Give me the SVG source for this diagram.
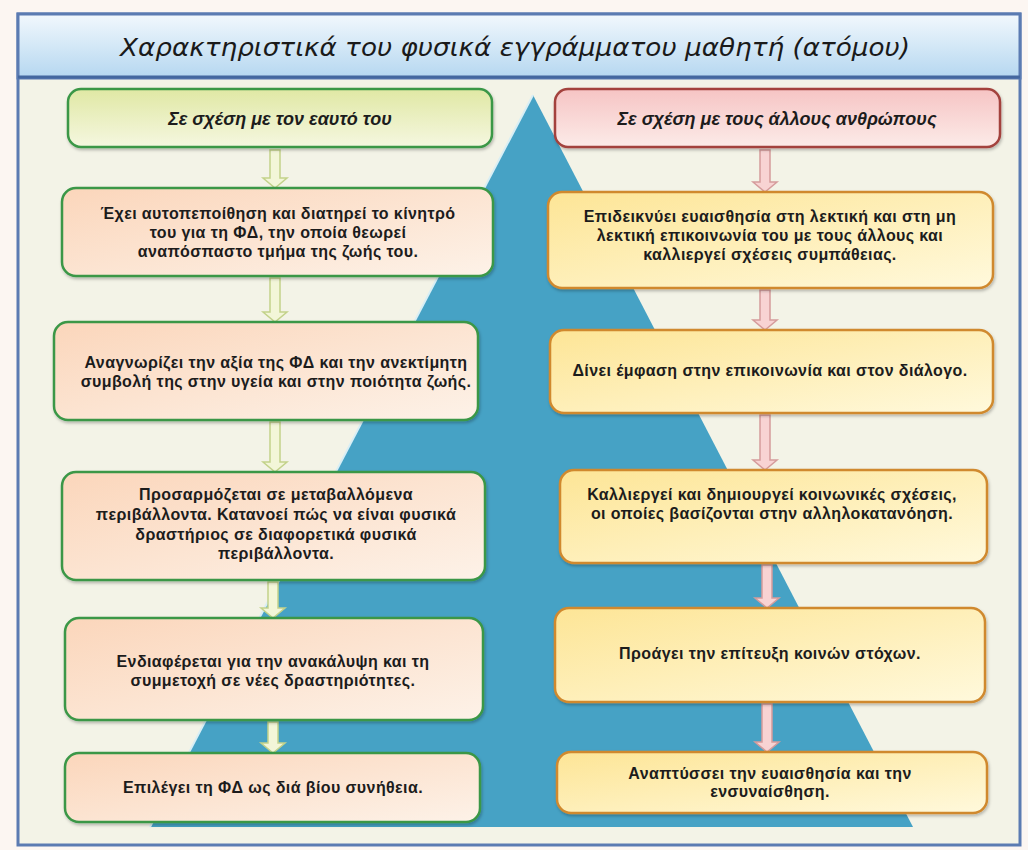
<svg xmlns="http://www.w3.org/2000/svg" width="1028" height="850" viewBox="0 0 1028 850">
<defs>
<linearGradient id="gTitle" x1="0" y1="0" x2="0" y2="1">
<stop offset="0" stop-color="#f2f8fd"/><stop offset="1" stop-color="#b5d7f0"/>
</linearGradient>
<linearGradient id="gHL" x1="0" y1="0" x2="0" y2="1">
<stop offset="0" stop-color="#e0e8a4"/><stop offset="1" stop-color="#f5f7e0"/>
</linearGradient>
<linearGradient id="gHR" x1="0" y1="0" x2="0" y2="1">
<stop offset="0" stop-color="#f6c4c4"/><stop offset="1" stop-color="#fcebe8"/>
</linearGradient>
<linearGradient id="gL" x1="0" y1="0" x2="1" y2="1">
<stop offset="0" stop-color="#fbd6bb"/><stop offset="1" stop-color="#fdf2e8"/>
</linearGradient>
<linearGradient id="gR" x1="0" y1="0" x2="1" y2="1">
<stop offset="0" stop-color="#fde596"/><stop offset="1" stop-color="#fff9dc"/>
</linearGradient>
<filter id="sh" x="-5%" y="-10%" width="110%" height="130%">
<feDropShadow dx="1" dy="2" stdDeviation="1.5" flood-color="#000" flood-opacity="0.25"/>
</filter>
</defs>
<style>
.nl{fill:url(#gL);stroke:#3a9746;stroke-width:2.5;filter:url(#sh)}
.nr{fill:url(#gR);stroke:#d0892e;stroke-width:2.5;filter:url(#sh)}
.t{font-family:"Liberation Sans",Arial,sans-serif;font-weight:bold;font-size:16px;letter-spacing:0.4px;fill:#1c1c1c;text-anchor:middle}
.h{font-family:"Liberation Sans",Arial,sans-serif;font-weight:bold;font-style:italic;font-size:18px;fill:#1c1c1c;text-anchor:middle}
.al{fill:#f3f6d8;stroke:#c3d28a;stroke-width:1.5}
.ar{fill:#f8d3d3;stroke:#d59c9c;stroke-width:1.5}
</style>
<rect x="0" y="0" width="1028" height="850" fill="#fcf6f2"/>
<g id="frame">
<rect x="18" y="14" width="1002" height="831" fill="#f3f3e7" stroke="#5b7bb2" stroke-width="3"/>
</g>
<g id="title">
<rect x="18" y="14" width="1002" height="64" fill="url(#gTitle)" stroke="#5b7bb2" stroke-width="3"/>
<line x1="18" y1="77" x2="1020" y2="77" stroke="#44679f" stroke-width="3"/>
<text x="515" y="56" font-family="'DejaVu Sans',sans-serif" font-style="italic" font-size="25" fill="#1a1a1a" text-anchor="middle" textLength="790" lengthAdjust="spacingAndGlyphs">Χαρακτηριστικά του φυσικά εγγράμματου μαθητή (ατόμου)</text>
</g>
<g id="pyramid">
<polygon points="533,95 150,827 913,827" fill="#46a2c5"/>
<line x1="533" y1="95" x2="150" y2="827" stroke="#d8eef5" stroke-width="2"/>
</g>
<g id="connectors">
<path class="al" d="M270,150 H280 V178 H287 L275,188 L263,178 H270 Z"/>
<path class="al" d="M270,278 H280 V312 H287 L275,322 L263,312 H270 Z"/>
<path class="al" d="M270,422 H280 V462 H287 L275,472 L263,462 H270 Z"/>
<path class="al" d="M268,582 H278 V608 H285 L273,618 L261,608 H268 Z"/>
<path class="al" d="M268,722 H278 V743 H285 L273,753 L261,743 H268 Z"/>
<path class="ar" d="M760,150 H770 V182 H777 L765,192 L753,182 H760 Z"/>
<path class="ar" d="M760,290 H770 V320 H777 L765,330 L753,320 H760 Z"/>
<path class="ar" d="M760,415 H770 V460 H777 L765,470 L753,460 H760 Z"/>
<path class="ar" d="M762,565 H772 V598 H779 L767,608 L755,598 H762 Z"/>
<path class="ar" d="M762,704 H772 V742 H779 L767,752 L755,742 H762 Z"/>
</g>
<g id="hdr-left">
<rect x="68" y="89" width="424" height="58" rx="13" fill="url(#gHL)" stroke="#3a9746" stroke-width="2.5" filter="url(#sh)"/>
<text class="h" x="280" y="125">Σε σχέση με τον εαυτό του</text>
</g>
<g id="hdr-right">
<rect x="555" y="89" width="445" height="58" rx="13" fill="url(#gHR)" stroke="#a3423e" stroke-width="2.5" filter="url(#sh)"/>
<text class="h" x="777" y="125">Σε σχέση με τους άλλους ανθρώπους</text>
</g>
<g id="l1">
<rect class="nl" x="62" y="188" width="431" height="88" rx="14"/>
<text class="t" x="278" y="219">Έχει αυτοπεποίθηση και διατηρεί το κίνητρό</text>
<text class="t" x="278" y="238">του για τη  ΦΔ, την οποία θεωρεί</text>
<text class="t" x="278" y="257">αναπόσπαστο τμήμα της ζωής του.</text>
</g>
<g id="l2">
<rect class="nl" x="54" y="322" width="424" height="98" rx="14"/>
<text class="t" x="276" y="368">Αναγνωρίζει την αξία της ΦΔ και την ανεκτίμητη</text>
<text class="t" x="276" y="387">συμβολή της στην υγεία και στην ποιότητα ζωής.</text>
</g>
<g id="l3">
<rect class="nl" x="62" y="472" width="423" height="108" rx="14"/>
<text class="t" x="276" y="500">Προσαρμόζεται σε μεταβαλλόμενα</text>
<text class="t" x="276" y="520">περιβάλλοντα. Κατανοεί πώς να είναι φυσικά</text>
<text class="t" x="276" y="540">δραστήριος σε διαφορετικά φυσικά</text>
<text class="t" x="276" y="559">περιβάλλοντα.</text>
</g>
<g id="l4">
<rect class="nl" x="65" y="618" width="418" height="102" rx="14"/>
<text class="t" x="273" y="667">Ενδιαφέρεται για την ανακάλυψη και τη</text>
<text class="t" x="273" y="686">συμμετοχή σε νέες δραστηριότητες.</text>
</g>
<g id="l5">
<rect class="nl" x="65" y="753" width="415" height="69" rx="14"/>
<text class="t" x="273" y="793">Επιλέγει τη ΦΔ ως διά βίου συνήθεια.</text>
</g>
<g id="r1">
<rect class="nr" x="548" y="192" width="445" height="96" rx="14"/>
<text class="t" x="770" y="222">Επιδεικνύει ευαισθησία στη λεκτική και στη μη</text>
<text class="t" x="770" y="241">λεκτική  επικοινωνία του με τους άλλους και</text>
<text class="t" x="770" y="260">καλλιεργεί  σχέσεις συμπάθειας.</text>
</g>
<g id="r2">
<rect class="nr" x="550" y="330" width="443" height="83" rx="14"/>
<text class="t" x="770" y="376">Δίνει έμφαση στην επικοινωνία και στον  διάλογο.</text>
</g>
<g id="r3">
<rect class="nr" x="560" y="470" width="427" height="93" rx="14"/>
<text class="t" x="772" y="500">Καλλιεργεί και δημιουργεί κοινωνικές σχέσεις,</text>
<text class="t" x="772" y="519">οι οποίες βασίζονται στην αλληλοκατανόηση.</text>
</g>
<g id="r4">
<rect class="nr" x="555" y="608" width="430" height="94" rx="14"/>
<text class="t" x="770" y="659">Προάγει την επίτευξη κοινών στόχων.</text>
</g>
<g id="r5">
<rect class="nr" x="557" y="752" width="430" height="61" rx="14"/>
<text class="t" x="770" y="779">Αναπτύσσει την ευαισθησία και την</text>
<text class="t" x="770" y="797">ενσυναίσθηση.</text>
</g>
</svg>
